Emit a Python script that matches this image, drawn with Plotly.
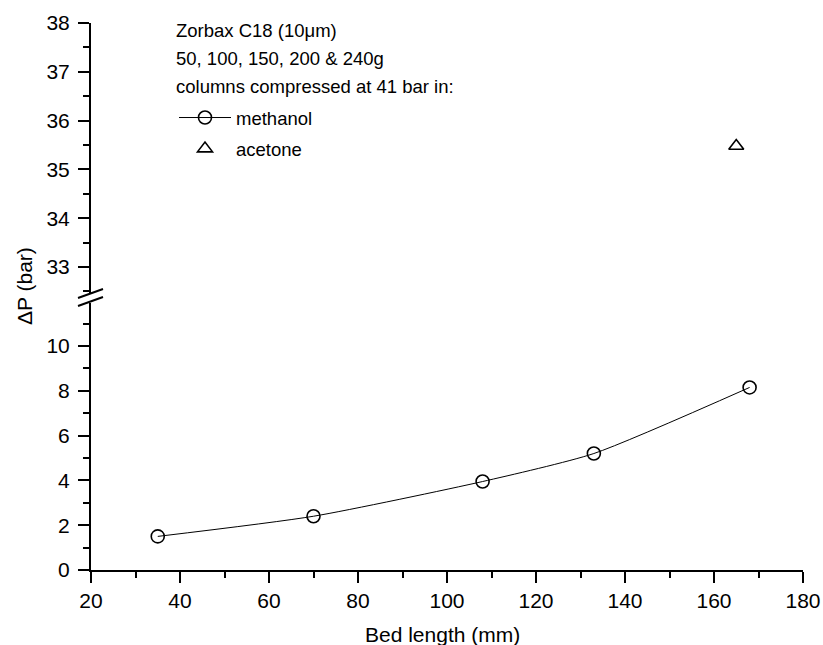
import plotly.graph_objects as go

# Data
methanol_x = [35, 70, 108, 133, 168]
methanol_y = [1.5, 2.4, 3.95, 5.2, 8.15]
acetone_x = [165]
acetone_y = [35.48]

x_ticks = [20, 40, 60, 80, 100, 120, 140, 160, 180]
low_ticks = [0, 2, 4, 6, 8, 10]
up_ticks = [33, 34, 35, 36, 37, 38]

W, H = 823, 645
L, R, T, B = 91, 20, 23, 75
PW, PH = W - L - R, H - T - B

def py(pix):
    return (H - B - pix) / PH

def px(pix):
    return (pix - L) / PW

FONT = "Liberation Sans, Arial, Helvetica, sans-serif"

fig = go.Figure()
fig.add_trace(go.Scatter(
    x=methanol_x, y=methanol_y, mode="lines+markers", name="methanol",
    line=dict(color="black", width=1, shape="spline", smoothing=0.6),
    marker=dict(symbol="circle-open", size=13, color="black", line=dict(width=1.6)),
    xaxis="x", yaxis="y", legendgroup="a",
))
fig.add_trace(go.Scatter(
    x=acetone_x, y=acetone_y, mode="markers", name="acetone",
    marker=dict(symbol="triangle-up-open", size=13, color="black", line=dict(width=1.6)),
    xaxis="x", yaxis="y2", legendgroup="b",
))

axis_common = dict(
    showgrid=False, zeroline=False, showline=True, linecolor="black", linewidth=2,
    ticks="outside", ticklen=11, tickwidth=2, tickcolor="black", automargin=False,
    tickfont=dict(family=FONT, size=21, color="black"),
)

low_top = 303
up_bot = 293
fig.update_layout(
    width=W, height=H,
    margin=dict(l=L, r=R, t=T, b=B, autoexpand=False),
    paper_bgcolor="white", plot_bgcolor="white",
    showlegend=True,
    legend=dict(x=px(174), y=py(99), xanchor="left", yanchor="top",
                font=dict(family=FONT, size=18.5, color="black"),
                itemwidth=52,
                bgcolor="rgba(0,0,0,0)", tracegroupgap=4, traceorder="grouped"),
    xaxis=dict(range=[20, 180], tickvals=x_ticks, anchor="y",
               minor=dict(dtick=10, ticklen=6, tickwidth=2, tickcolor="black", ticks="outside", showgrid=False),
               **axis_common),
    yaxis=dict(domain=[0, py(low_top)], range=[0, (H - B - low_top) / 22.4],
               tickvals=low_ticks, anchor="x", ticklabelstandoff=4,
               minor=dict(dtick=1, ticklen=6, tickwidth=2, tickcolor="black", ticks="outside", showgrid=False),
               **axis_common),
    yaxis2=dict(domain=[py(up_bot), 1], range=[38 - (up_bot - T) / 48.8, 38],
                tickvals=up_ticks, anchor="x", ticklabelstandoff=4,
                minor=dict(dtick=0.5, ticklen=6, tickwidth=2, tickcolor="black", ticks="outside", showgrid=False),
                **axis_common),
)

# Axis break marks
for (x0, y0, x1, y1) in [(78, 298, 103, 289), (78, 306, 103, 297)]:
    fig.add_shape(type="line", xref="paper", yref="paper",
                  x0=px(x0), y0=py(y0), x1=px(x1), y1=py(y1),
                  line=dict(color="black", width=2))

texts = ["Zorbax C18 (10\u03bcm)", "50, 100, 150, 200 & 240g", "columns compressed at 41 bar in:"]
for t, yy in zip(texts, [31, 59, 87]):
    fig.add_annotation(text=t, xref="paper", yref="paper", x=px(174), y=py(yy),
                       xanchor="left", yanchor="middle", showarrow=False,
                       font=dict(family=FONT, size=18.5, color="black"))

fig.add_annotation(text="\u0394P (bar)", xref="paper", yref="paper", x=px(24), y=py(286),
                   xanchor="center", yanchor="middle", textangle=-90, showarrow=False,
                   font=dict(family=FONT, size=21, color="black"))
fig.add_annotation(text="Bed length (mm)", xref="paper", yref="paper", x=px(442), y=py(634),
                   xanchor="center", yanchor="middle", showarrow=False,
                   font=dict(family=FONT, size=21, color="black"))

fig.write_html("out.html", config={"displayModeBar": False},
               post_script="document.body.style.margin='0';")
